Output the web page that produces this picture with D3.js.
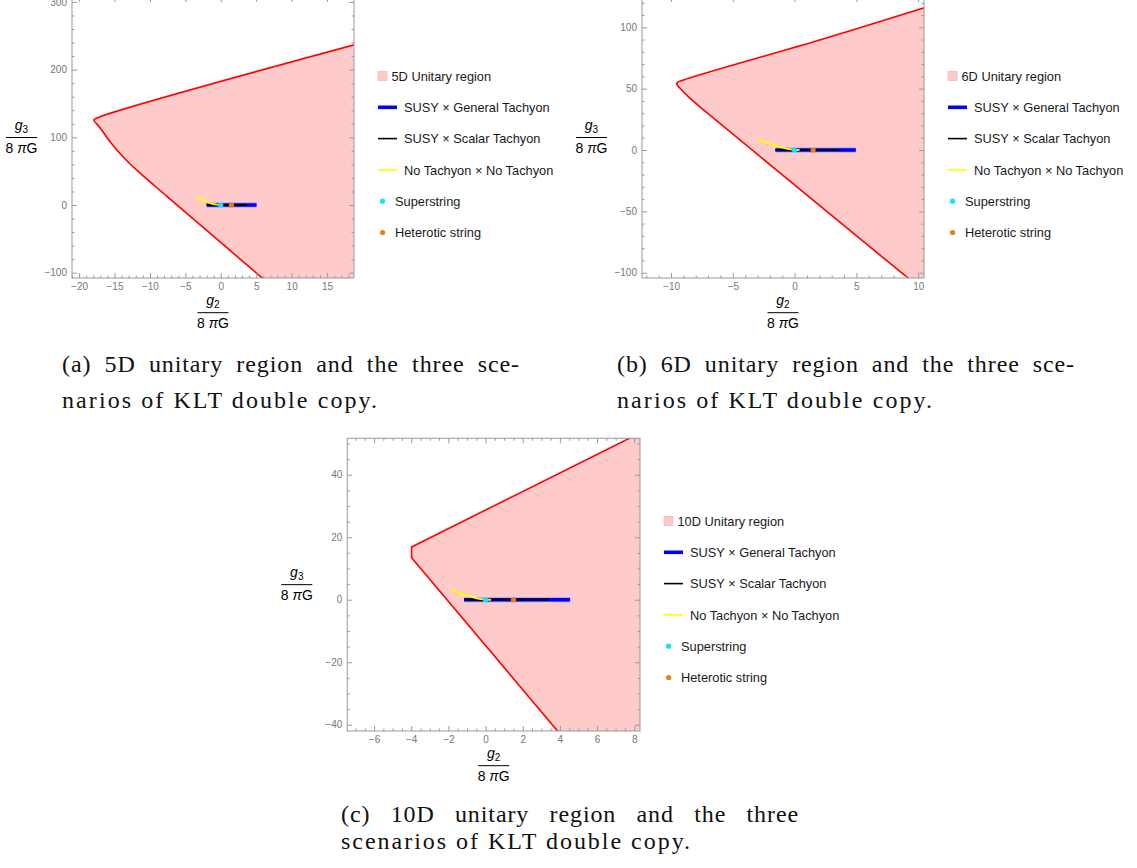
<!DOCTYPE html>
<html><head><meta charset="utf-8">
<script src="https://cdn.jsdelivr.net/npm/d3@7"></script>
<style>body{margin:0;background:#fff;} svg{display:block;}</style>
</head><body>
<svg id="fig" width="1137" height="868"></svg>
<script>
// ---------------- data ----------------
// Unitary-region boundary (g2/8πG, g3/8πG), from lower exit to upper exit
const boundaryA = [[6.2,-111],[1.3,-67],[-3.4,-24.8],[-7.6,12.9],[-11.4,47],[-13.6,69],[-15.6,93],[-17.1,115],[-17.9,125.5],[-17.5,128.5],[20,240]];
const boundaryB = [[9.5,-107],[3.61,-58.4],[-7.52,34.0],[-8.5,42.5],[-9.14,48.9],[-9.54,54.4],[-9.0,57.0],[2.03,89.6],[11,117.5]];
const boundaryC = [[4.3,-45.0],[-3.98,13.4],[-3.98,16.9],[8.6,54.2]];

// SUSY × General Tachyon (blue), SUSY × Scalar Tachyon (black)
const generalA = [[-2.0,0],[5.05,0]];
const scalarA  = [[-2.0,0],[3.7,0]];
const generalB = [[-1.55,0],[4.95,0]];
const scalarB  = [[-1.55,0],[3.7,0]];
const generalC = [[-1.15,0],[4.55,0]];
const scalarC  = [[-1.15,0],[3.42,0]];

// No Tachyon × No Tachyon (yellow)
const noTachA = [[-3.6,13],[-3.0,9.5],[-2.4,6.5],[-1.8,4.0],[-1.2,2.0],[-0.6,0.6],[0,0.05],[0.3,0]];
const noTachB = [[-2.95,9.0],[-2.4,6.5],[-1.8,4.3],[-1.2,2.5],[-0.6,1.0],[0,0.2],[0.4,0]];
const noTachC = [[-1.88,3.2],[-1.5,2.3],[-1.0,1.3],[-0.5,0.5],[0,0.1],[0.3,0]];

// special points
const superstring = [[0,0]];
const heterotic   = [[1.5,0]];

// tick labels
const xTicksA = [-20,-15,-10,-5,0,5,10,15];
const yTicksA = [-100,0,100,200,300];
const xTicksB = [-10,-5,0,5,10];
const yTicksB = [-100,-50,0,50,100];
const xTicksC = [-6,-4,-2,0,2,4,6,8];
const yTicksC = [-40,-20,0,20,40];

const dimLabels = ["5D","6D","10D"];
const legendLabels = ["Unitary region","SUSY × General Tachyon","SUSY × Scalar Tachyon","No Tachyon × No Tachyon","Superstring","Heterotic string"];
const captionsA = ["(a) 5D unitary region and the three sce-","narios of KLT double copy."];
const captionsB = ["(b) 6D unitary region and the three sce-","narios of KLT double copy."];
const captionsC = ["(c) 10D unitary region and the three","scenarios of KLT double copy."];

// ---------------- layout ----------------
const svg = d3.select("#fig");
const sans = '"Liberation Sans", Arial, sans-serif';
const serif = '"Liberation Serif", "Times New Roman", serif';
const COL = {fill:"#ffcaca", edge:"#ff0000", blue:"#0000ff", black:"#000000", yellow:"#ffff00",
             cyan:"#10e6f0", orange:"#ee7a1a", frame:"#9a9a9a", tick:"#777777"};

const panels = [
  {rect:{l:72,r:354,t:-3,b:278}, xDom:[-21,18.8], yDom:[-107.8,307.3], boundary:boundaryA, smooth:true,
   general:generalA, scalar:scalarA, yellow:noTachA, xTicks:xTicksA, yTicks:yTicksA, minor:[1,20],
   dim:dimLabels[0], legTop:76, caption:captionsA, capX:62, capY:[372,408], capW:[458,316]},
  {rect:{l:642,r:924,t:-3,b:278}, xDom:[-12.35,10.47], yDom:[-104.3,124.7], boundary:boundaryB, smooth:true,
   general:generalB, scalar:scalarB, yellow:noTachB, xTicks:xTicksB, yTicks:yTicksB, minor:[1,10],
   dim:dimLabels[1], legTop:76, caption:captionsB, capX:617, capY:[372,408], capW:[458,316]},
  {rect:{l:347.3,r:640,t:438.3,b:731}, xDom:[-7.44,8.31], yDom:[-42.0,51.65], boundary:boundaryC, smooth:false,
   general:generalC, scalar:scalarC, yellow:noTachC, xTicks:xTicksC, yTicks:yTicksC, minor:[0.5,5],
   dim:dimLabels[2], legTop:521, caption:captionsC, capX:341, capY:[822,849], capW:[458,350]}
];

const fmt = d => d < 0 ? "\u2212" + Math.abs(d) : String(d);

function fraction(g, cx, cy, sub) {
  const t = g.append("text").attr("x", cx).attr("y", cy - 7.5).attr("text-anchor","middle")
    .attr("font-family", sans).attr("font-size", 14).attr("fill","#000");
  t.append("tspan").attr("font-style","italic").text("g");
  t.append("tspan").attr("font-size", 10).attr("dy", 3).text(sub);
  g.append("line").attr("x1", cx - 15.5).attr("x2", cx + 15.5).attr("y1", cy).attr("y2", cy)
    .attr("stroke","#000").attr("stroke-width", 1);
  const d = g.append("text").attr("x", cx).attr("y", cy + 15).attr("text-anchor","middle")
    .attr("font-family", sans).attr("font-size", 14).attr("fill","#000");
  d.append("tspan").text("8 ");
  d.append("tspan").attr("font-style","italic").text("\u03c0");
  d.append("tspan").text("G");
}

panels.forEach((p, i) => {
  const R = p.rect;
  const x = d3.scaleLinear().domain(p.xDom).range([R.l, R.r]);
  const y = d3.scaleLinear().domain(p.yDom).range([R.b, R.t]);
  const g = svg.append("g");
  const clipId = "clip" + i;
  g.append("clipPath").attr("id", clipId).append("rect")
    .attr("x", R.l).attr("y", R.t).attr("width", R.r - R.l).attr("height", R.b - R.t);
  const plot = g.append("g").attr("clip-path", `url(#${clipId})`);

  // region fill + boundary
  const curve = p.smooth ? d3.curveCatmullRom.alpha(0.5) : d3.curveLinear;
  const bLine = d3.line().x(d => x(d[0])).y(d => y(d[1])).curve(curve);
  const first = p.boundary[0], last = p.boundary[p.boundary.length - 1];
  const farX = p.xDom[1] + (p.xDom[1] - p.xDom[0]);
  const bPath = bLine(p.boundary);
  const closing = d3.line().x(d => x(d[0])).y(d => y(d[1]))([last, [farX, last[1]], [farX, first[1]], first]);
  plot.append("path").attr("d", bPath + "L" + closing.slice(1) + "Z")
    .attr("fill", COL.fill).attr("stroke","none");
  plot.append("path").attr("d", bPath)
    .attr("fill","none").attr("stroke", COL.edge).attr("stroke-width", 1.6).attr("stroke-linejoin","round");

  const line = d3.line().x(d => x(d[0])).y(d => y(d[1]));
  plot.append("path").attr("d", line(p.general)).attr("stroke", "#9c9cff").attr("stroke-width", 5).attr("fill","none");
  plot.append("path").attr("d", line(p.general)).attr("stroke", COL.blue).attr("stroke-width", 3.6).attr("fill","none");
  plot.append("path").attr("d", line(p.scalar)).attr("stroke", COL.black).attr("stroke-width", 2).attr("fill","none");
  plot.append("path").attr("d", d3.line().x(d => x(d[0])).y(d => y(d[1])).curve(d3.curveMonotoneX)(p.yellow))
    .attr("stroke", COL.yellow).attr("stroke-width", 2).attr("fill","none").attr("opacity", 0.95);
  plot.selectAll(".ss").data(superstring).join("circle").attr("cx", d => x(d[0])).attr("cy", d => y(d[1]))
    .attr("r", 2.6).attr("fill", COL.cyan);
  plot.selectAll(".ht").data(heterotic).join("circle").attr("cx", d => x(d[0])).attr("cy", d => y(d[1]))
    .attr("r", 2.6).attr("fill", COL.orange);

  // frame
  g.append("rect").attr("x", R.l).attr("y", R.t).attr("width", R.r - R.l).attr("height", R.b - R.t)
    .attr("fill","none").attr("stroke", COL.frame).attr("stroke-width", 1);

  // ticks
  const minorVals = (dom, step, majors) => d3.range(Math.ceil(dom[0] / step) * step, dom[1] + 1e-9, step)
    .filter(v => !majors.some(t => Math.abs(t - v) < 1e-9));
  const mx = minorVals(p.xDom, p.minor[0], p.xTicks);
  const my = minorVals(p.yDom, p.minor[1], p.yTicks);
  const axes = [
    [d3.axisBottom(x).tickValues(p.xTicks).tickSize(-5).tickPadding(5).tickFormat(fmt), `translate(0,${R.b})`],
    [d3.axisBottom(x).tickValues(mx).tickSize(-2.5).tickFormat(""), `translate(0,${R.b})`],
    [d3.axisTop(x).tickValues(p.xTicks).tickSize(-5).tickFormat(""), `translate(0,${R.t})`],
    [d3.axisTop(x).tickValues(mx).tickSize(-2.5).tickFormat(""), `translate(0,${R.t})`],
    [d3.axisLeft(y).tickValues(p.yTicks).tickSize(-5).tickPadding(5).tickFormat(fmt), `translate(${R.l},0)`],
    [d3.axisLeft(y).tickValues(my).tickSize(-2.5).tickFormat(""), `translate(${R.l},0)`],
    [d3.axisRight(y).tickValues(p.yTicks).tickSize(-5).tickFormat(""), `translate(${R.r},0)`],
    [d3.axisRight(y).tickValues(my).tickSize(-2.5).tickFormat(""), `translate(${R.r},0)`]
  ];
  axes.forEach(([ax, tr]) => {
    const a = g.append("g").attr("transform", tr).call(ax);
    a.select(".domain").remove();
    a.selectAll("line").attr("stroke", COL.frame);
    a.selectAll("text").attr("fill", COL.tick).attr("font-family", sans).attr("font-size", 10);
  });

  // axis labels
  fraction(g, (R.l + R.r) / 2, R.b + 34.7, "2");
  fraction(g, R.l - 50.5, (R.t + R.b) / 2, "3");

  // legend
  const lx = R.r + 24, dy = 31.3;
  const lg = g.append("g");
  const texts = [p.dim + " " + legendLabels[0]].concat(legendLabels.slice(1));
  texts.forEach((t, k) => {
    const cy = p.legTop + k * dy;
    let tx;
    if (k === 0) {
      lg.append("rect").attr("x", lx).attr("y", cy - 4.5).attr("width", 9).attr("height", 9)
        .attr("fill", COL.fill).attr("stroke", "#f3aaaa").attr("stroke-width", 0.6);
      tx = lx + 13.5;
    } else if (k <= 3) {
      const c = [COL.blue, COL.black, COL.yellow][k - 1];
      const w = [3.6, 1.6, 1.6][k - 1];
      lg.append("line").attr("x1", lx).attr("x2", lx + 19).attr("y1", cy).attr("y2", cy)
        .attr("stroke", c).attr("stroke-width", w);
      tx = lx + 26;
    } else {
      lg.append("circle").attr("cx", lx + 4.6).attr("cy", cy).attr("r", 2.6)
        .attr("fill", k === 4 ? COL.cyan : COL.orange);
      tx = lx + 17;
    }
    lg.append("text").attr("x", tx).attr("y", cy).attr("dy", "0.36em")
      .attr("font-family", sans).attr("font-size", 12.8).attr("fill", "#1a1a1a").text(t);
  });

  // caption
  const capStyle = s => s.attr("font-family", serif).attr("font-size", 24).attr("fill", "#111")
    .attr("letter-spacing", 0.9);
  // first line justified to caption width
  const words = p.caption[0].split(" ");
  const nodes = words.map(w => capStyle(svg.append("text").attr("y", p.capY[0])).text(w));
  const widths = nodes.map(n => n.node().getComputedTextLength());
  const gap = (p.capW[0] - d3.sum(widths)) / (words.length - 1);
  let cx = p.capX;
  nodes.forEach((n, k) => { n.attr("x", cx); cx += widths[k] + gap; });
  // second line, natural width
  capStyle(svg.append("text").attr("x", p.capX).attr("y", p.capY[1]))
    .attr("textLength", p.capW[1]).attr("lengthAdjust", "spacing").text(p.caption[1]);
});
</script>
</body></html>
